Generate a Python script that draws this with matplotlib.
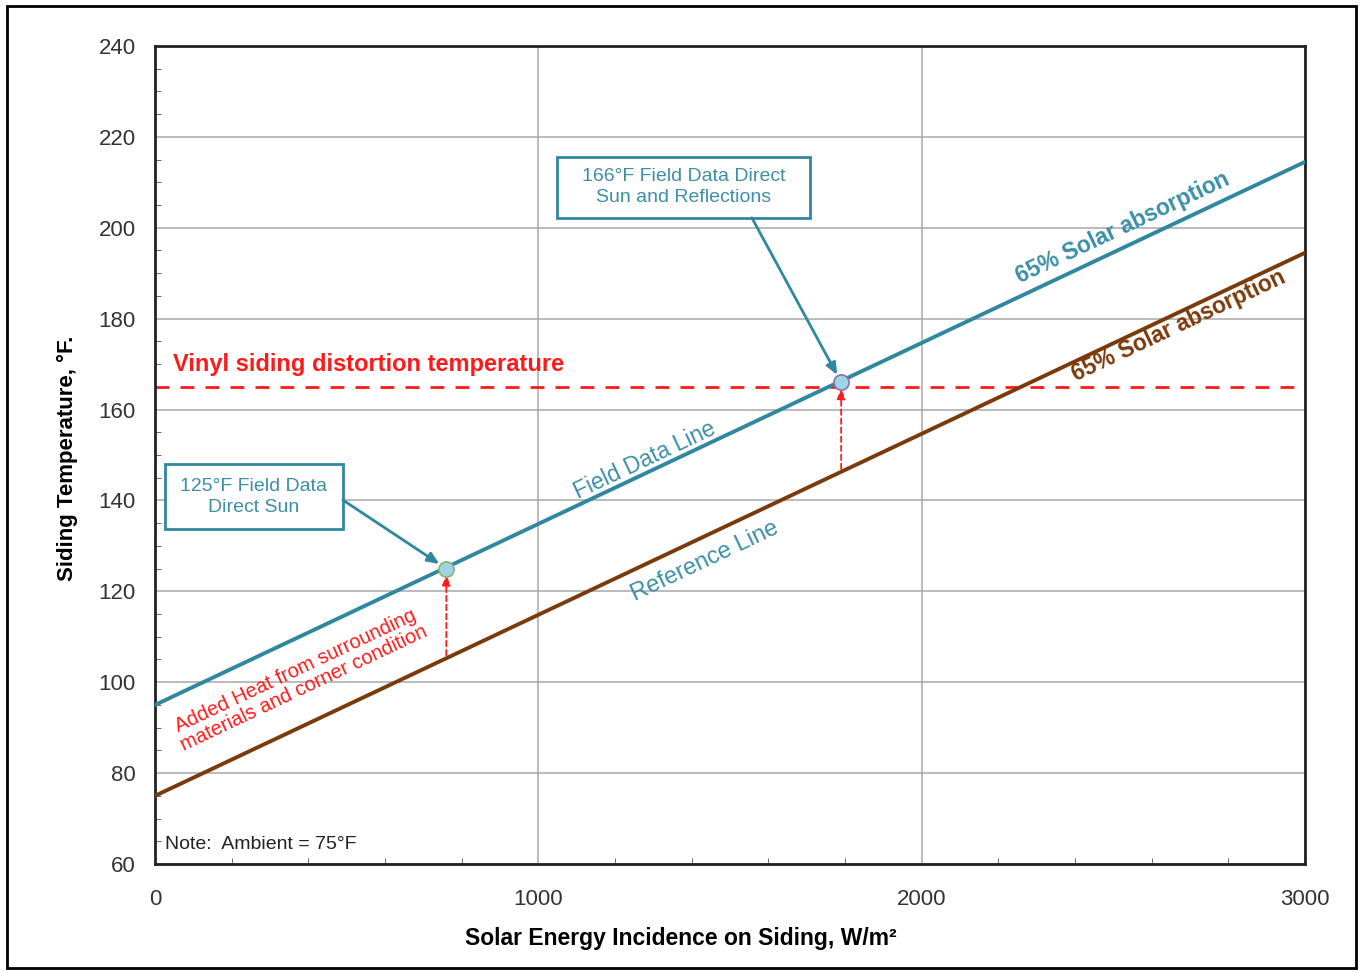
"""Siding temperature vs solar energy incidence, field data vs reference line."""

import matplotlib

matplotlib.use("Agg")
import matplotlib.pyplot as plt
import numpy as np
from matplotlib.patches import Rectangle
from matplotlib.ticker import MultipleLocator

plt.rcParams["font.family"] = ["Liberation Sans", "DejaVu Sans"]

# data
irradiance = [0, 3000]
field_temp = [95.0, 214.5]
ref_temp = [75.0, 194.5]
field_pts_x = [760, 1790]
field_pts_y = [125, 166]
ref_pts_y = [105.3, 146.3]
distortion_temp = 165

TEAL = "#2f88a0"
TEAL_TXT = "#3d8fa6"
BROWN = "#7a3a0c"
RED = "#ff1a1a"

fig = plt.figure(figsize=(13.62, 9.71), dpi=100)
ax = fig.add_axes([155 / 1362, 1 - 864 / 971, 1150 / 1362, 818 / 971])

ax.plot(irradiance, ref_temp, color=BROWN, lw=2.8, zorder=3)
ax.plot(irradiance, field_temp, color=TEAL, lw=2.8, zorder=3)
ax.axhline(distortion_temp, color=RED, lw=2, ls=(0, (5, 4)), zorder=2)

# marker points
ax.scatter(field_pts_x[0], field_pts_y[0], s=120, facecolor="#9fd3e6",
           edgecolor="#8fb36a", lw=1.2, zorder=5)
ax.scatter(field_pts_x[1], field_pts_y[1], s=120, facecolor="#9fd3e6",
           edgecolor="#8a6fb0", lw=1.2, zorder=5)

# red dotted arrows from reference line up to field points
for x, y0, y1 in zip(field_pts_x, ref_pts_y, field_pts_y):
    ax.annotate("", xy=(x, y1 - 0.8), xytext=(x, y0),
                arrowprops=dict(arrowstyle="-|>,head_length=0.6,head_width=0.25",
                                color=RED, lw=1.3, ls=(0, (3, 2))), zorder=4)

ax.set_xlim(0, 3000)
ax.set_ylim(60, 240)
ax.xaxis.set_major_locator(MultipleLocator(1000))
ax.xaxis.set_minor_locator(MultipleLocator(200))
ax.yaxis.set_major_locator(MultipleLocator(20))
ax.yaxis.set_minor_locator(MultipleLocator(5))
ax.grid(True, which="major", color="#a8a8a8", lw=1.1, zorder=0)
ax.tick_params(which="both", direction="in", colors="#555555", labelcolor="#333333")
ax.tick_params(which="major", length=0, labelsize=16)
ax.tick_params(which="minor", length=4)
ax.tick_params(axis="x", pad=18)
ax.tick_params(axis="y", pad=14)
for s in ax.spines.values():
    s.set_linewidth(2)
    s.set_color("#222222")

ax.set_xlabel("Solar Energy Incidence on Siding, W/m²", fontsize=16.5,
              fontweight="bold")
ax.xaxis.set_label_coords((681 - 155) / 1150, -(927 - 864) / 818)
ax.set_ylabel("Siding Temperature, °F.", fontsize=16, fontweight="bold")
ax.yaxis.set_label_coords(-(155 - 78) / 1150, (864 - 458) / 818)

# rotation angle of the lines in screen space
p0 = ax.transData.transform((irradiance[0], field_temp[0]))
p1 = ax.transData.transform((irradiance[1], field_temp[1]))
ang = np.degrees(np.arctan2(p1[1] - p0[1], p1[0] - p0[0]))

ax.text(2523, 200, "65% Solar absorption", color=TEAL_TXT, fontsize=16.5,
        fontweight="bold", rotation=ang, ha="center", va="center",
        rotation_mode="anchor")
ax.text(2669, 178.4, "65% Solar absorption", color=BROWN, fontsize=16.5,
        fontweight="bold", rotation=ang, ha="center", va="center",
        rotation_mode="anchor")
ax.text(1278, 148.8, "Field Data Line", color=TEAL_TXT, fontsize=16.5,
        rotation=ang, ha="center", va="center", rotation_mode="anchor")
ax.text(1435, 126.7, "Reference Line", color=TEAL_TXT, fontsize=17,
        rotation=ang, ha="center", va="center", rotation_mode="anchor")
ax.text(378, 100.5, "Added Heat from surrounding\nmaterials and corner condition",
        color=RED, fontsize=14.5, rotation=ang, ha="center", va="center",
        rotation_mode="anchor", linespacing=1.0)
ax.text(47, 170, "Vinyl siding distortion temperature", color=RED, fontsize=17,
        fontweight="bold", ha="left", va="center")
ax.text(26, 64.2, "Note:  Ambient = 75°F", color="#222222", fontsize=14,
        ha="left", va="center")

# callout boxes (x0, x1, y0, y1 in data units) with arrows to the field points
callouts = [
    ("125°F Field Data\nDirect Sun", (26, 490, 133.7, 148.0), (490, 140.1)),
    ("166°F Field Data Direct\nSun and Reflections", (1049, 1709, 202.2, 215.6),
     (1557, 202.2)),
]
for (label, (x0, x1, y0, y1), start), px, py in zip(callouts, field_pts_x,
                                                      field_pts_y):
    ax.add_patch(Rectangle((x0, y0), x1 - x0, y1 - y0, fc="white", ec=TEAL,
                           lw=2, zorder=6))
    ax.text((x0 + x1) / 2, (y0 + y1) / 2, label, color=TEAL_TXT, fontsize=14,
            ha="center", va="center", linespacing=1.3, zorder=7)
    ax.annotate("", xy=(px, py), xytext=start, zorder=6,
                arrowprops=dict(arrowstyle="-|>,head_length=0.7,head_width=0.3",
                                color=TEAL, lw=2, shrinkA=0, shrinkB=6))

# outer border around the whole figure
fig.patches.append(Rectangle((7 / 1362, 3 / 971), 1349 / 1362, 962 / 971,
                             transform=fig.transFigure, fill=False,
                             ec="black", lw=2))

fig.savefig("out.png", dpi=100)
